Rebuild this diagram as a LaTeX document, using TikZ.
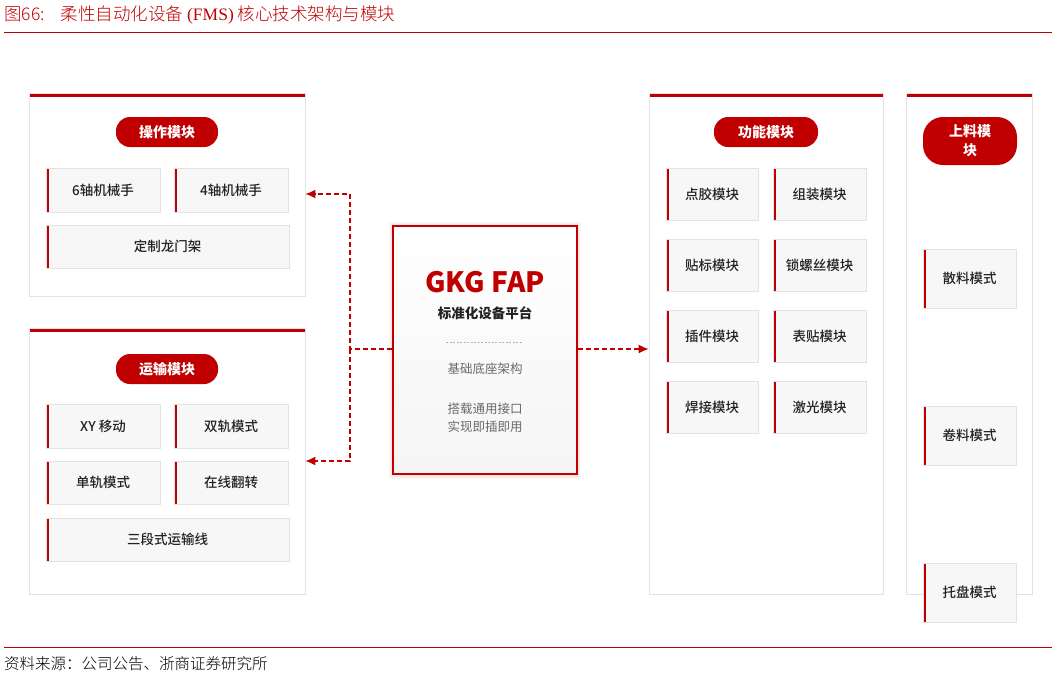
\documentclass[tikz,border=0pt]{standalone}
\usepackage{fontspec}
\setmainfont{Liberation Serif}
\newfontfamily\cjk{Noto Sans CJK SC}
\newfontfamily\cjkmed{Noto Sans CJK SC Medium}
\newfontfamily\cjklight{Noto Sans CJK SC Light}
\usetikzlibrary{arrows.meta,calc}
\definecolor{mainred}{HTML}{C00000}
\definecolor{bordergray}{HTML}{E2E2E2}
\definecolor{itemfill}{HTML}{F7F7F7}
\definecolor{textdark}{HTML}{222222}
\definecolor{textgray}{HTML}{6A6A6A}
\tikzset{
  panel/.style={draw=bordergray, line width=0.8pt, fill=white, inner sep=0pt,
    path picture={\fill[mainred] (path picture bounding box.north west) rectangle ([yshift=-4pt]path picture bounding box.north east);}},
  item/.style={draw=bordergray, fill=itemfill, line width=0.6pt, inner sep=0pt,
    font=\cjkmed\fontsize{13.5}{16}\selectfont, text=textdark,
    path picture={\fill[mainred] (path picture bounding box.north west) rectangle ([xshift=3pt]path picture bounding box.south west);}},
  pill/.style={fill=mainred, rounded corners=14pt, text=white, inner sep=0pt,
    font=\cjk\bfseries\fontsize{14}{17}\selectfont, align=center},
  conn/.style={draw=mainred, line width=1.3pt, dash pattern=on 5pt off 3pt,
    -{Latex[length=10pt,width=9pt]}},
}
\begin{document}
\begin{tikzpicture}[x=1pt,y=-1pt]
\useasboundingbox (0,0) rectangle (1057,678);
\fill[white] (0,0) rectangle (1057,678);
% title
\node[anchor=west, text=mainred, font=\cjklight\fontsize{17.5}{19}\selectfont, inner sep=0] (title) at (4,15)
  {图66:\hspace{16pt}柔性自动化设备 {\fontspec{Liberation Serif}(FMS)} 核心技术架构与模块};
\draw[mainred, line width=0.8pt] (4,32) -- (1052,32);
% footer
\draw[mainred, line width=0.8pt] (4,647) -- (1052,647);
\node[anchor=west, text=black, font=\cjklight\fontsize{15.5}{17}\selectfont, inner sep=0] (src) at (4,664)
  {资料来源：公司公告、浙商证券研究所};

% ---------- left panel 1
\node[panel, minimum width=276pt, minimum height=203pt] (op) at (167,194.5) {};
\node[pill, minimum width=102pt, minimum height=30pt] (opt) at (167,132) {操作模块};
\node[item, minimum width=114pt, minimum height=44pt] (r6) at (103,190) {6轴机械手};
\node[item, minimum width=114pt, minimum height=44pt] (r4) at (231,190) {4轴机械手};
\node[item, minimum width=243pt, minimum height=43pt] (gm) at (167.5,246.5) {定制龙门架};

% ---------- left panel 2
\node[panel, minimum width=276pt, minimum height=266pt] (tr) at (167,461) {};
\node[pill, minimum width=102pt, minimum height=30pt] (trt) at (167,369) {运输模块};
\node[item, minimum width=114pt, minimum height=44pt] (xy) at (103,426) {XY 移动};
\node[item, minimum width=114pt, minimum height=44pt] (sg) at (231,426) {双轨模式};
\node[item, minimum width=114pt, minimum height=43pt] (dg) at (103,482.5) {单轨模式};
\node[item, minimum width=114pt, minimum height=43pt] (fz) at (231,482.5) {在线翻转};
\node[item, minimum width=243pt, minimum height=43pt] (sd) at (167.5,539.5) {三段式运输线};

% ---------- center
\fill[mainred, opacity=0.05] (389,222) rectangle (581,479);
\fill[mainred, opacity=0.05] (391,224) rectangle (579,477);
\node[draw=mainred, line width=1.5pt, top color=white, bottom color=black!4,
  minimum width=184pt, minimum height=248pt, inner sep=0] (fap) at (485,350) {};
\node[text=mainred, font=\cjk\bfseries\fontsize{28}{30}\selectfont, inner sep=0] (fapt) at (485,282) {GKG FAP};
\node[text=textdark, font=\cjk\bfseries\fontsize{13.5}{16}\selectfont, inner sep=0] (faps) at (485,313) {标准化设备平台};
\draw[black!30, line width=0.5pt, dash pattern=on 2pt off 1.5pt] (446,342) -- (523,342);
\node[text=textgray, font=\cjk\fontsize{12.5}{15}\selectfont, inner sep=0] (l1) at (485,369) {基础底座架构};
\node[text=textgray, font=\cjk\fontsize{12.5}{15}\selectfont, inner sep=0, align=center] (l2) at (485,418) {搭载通用接口\\[3pt]实现即插即用};

% ---------- panel 3
\node[panel, minimum width=234pt, minimum height=501pt] (fn) at (766,343.5) {};
\node[pill, minimum width=104pt, minimum height=30pt] (fnt) at (766,132) {功能模块};
\node[item, minimum width=92pt, minimum height=52pt] (dj) at (712,194) {点胶模块};
\node[item, minimum width=93pt, minimum height=52pt] (zz) at (819.5,194) {组装模块};
\node[item, minimum width=92pt, minimum height=52pt] (tb) at (712,265) {贴标模块};
\node[item, minimum width=93pt, minimum height=52pt] (ls) at (819.5,265) {锁螺丝模块};
\node[item, minimum width=92pt, minimum height=52pt] (cj) at (712,336) {插件模块};
\node[item, minimum width=93pt, minimum height=52pt] (bt) at (819.5,336) {表贴模块};
\node[item, minimum width=92pt, minimum height=52pt] (hj) at (712,407) {焊接模块};
\node[item, minimum width=93pt, minimum height=52pt] (jg) at (819.5,407) {激光模块};

% ---------- panel 4
\node[panel, minimum width=126pt, minimum height=501pt] (sl) at (969,343.5) {};
\node[pill, rounded corners=20pt, minimum width=94pt, minimum height=48pt] (slt) at (970,141) {上料模\\[2pt]块};
\node[item, minimum width=93pt, minimum height=59pt] (sm) at (969.5,278.5) {散料模式};
\node[item, minimum width=93pt, minimum height=59pt] (jm) at (969.5,435.5) {卷料模式};
\node[item, minimum width=93pt, minimum height=59pt] (tp) at (969.5,592.5) {托盘模式};

% ---------- connectors
\coordinate (jn) at (350,349);
\coordinate (a1) at (op.east |- 0,194);
\coordinate (a2) at (tr.east |- 0,461);
\draw[conn] (fap.west |- jn) -- (jn) |- (a1);
\draw[conn] (jn) |- (a2);
\draw[conn] (fap.east |- jn) -- (fn.west |- jn);
\end{tikzpicture}
\end{document}
